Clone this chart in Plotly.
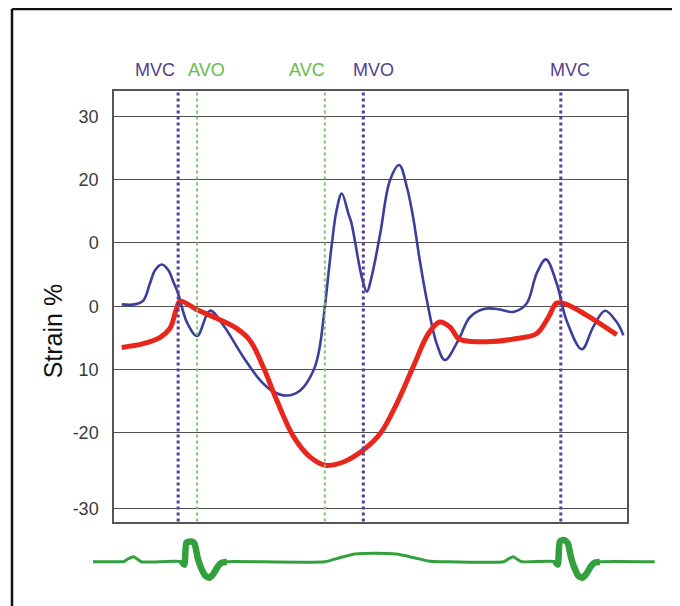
import plotly.graph_objects as go

# ---------------- data ----------------
# time axis (ms, arbitrary units across one cardiac cycle)
blue_t = [15, 40, 57, 70, 80, 93, 106, 116, 125, 142, 162, 187, 213, 252, 285, 311, 337,
          363, 389, 400, 411, 424, 434, 444, 457, 463, 483, 493, 502, 519, 538, 556, 571,
          583, 596, 610, 629, 645, 671, 694, 723, 752, 778, 804, 824, 842, 863, 882, 912,
          934, 957, 980, 993]
blue_y = [0.3, 0.3, 0.9, 3.6, 5.7, 6.6, 5.7, 3.8, 2.0, -2.5, -4.7, -0.7, -3.0, -8.0, -11.7,
          -13.5, -14.1, -13.3, -10.1, -6.9, -0.1, 9.4, 15.2, 17.8, 14.6, 13.1, 4.6, 2.3, 4.6,
          11.5, 19.9, 22.3, 18.8, 14.1, 7.3, 0.9, -5.9, -8.5, -5.4, -1.7, -0.4, -0.5, -0.9,
          0.4, 5.2, 7.4, 3.6, -2.2, -6.8, -3.3, -0.7, -2.5, -4.6]

red_t = [15, 57, 90, 109, 121, 129, 161, 200, 239, 265, 291, 317, 350, 382, 411, 447, 486,
         519, 551, 583, 613, 635, 655, 671, 681, 727, 785, 824, 847, 863, 882, 921, 980]
red_y = [-6.5, -5.9, -4.9, -3.5, -0.6, 0.8, -0.5, -1.9, -3.5, -5.4, -9.6, -14.8, -20.6,
         -23.8, -25.1, -24.6, -22.7, -20.1, -15.4, -9.6, -4.3, -2.5, -3.3, -5.1, -5.4, -5.6,
         -5.1, -4.3, -1.7, 0.5, 0.3, -1.4, -4.5]

ecg_t = [-41, 10, 18, 28, 38, 46, 53, 132, 137, 141, 146, 152, 157, 163, 168, 178, 186, 194,
         202, 210, 220, 411, 440, 470, 510, 550, 585, 616, 640, 760, 770, 778, 786, 795, 860,
         865, 869, 874, 880, 885, 891, 896, 905, 913, 921, 929, 937, 947, 1054]
ecg_mv = [0, 0, 0, 0.15, 0.25, 0.12, 0, 0, -0.15, 0.95, 1.0, 1.0, 0.9, 0.2, -0.2, -0.7, -0.8,
          -0.6, -0.25, -0.05, 0, 0, 0.2, 0.38, 0.42, 0.38, 0.2, 0.02, 0, 0, 0.15, 0.25, 0.12,
          0, 0, -0.15, 1.0, 1.08, 1.05, 0.9, 0.2, -0.2, -0.7, -0.8, -0.6, -0.25, -0.05, 0, 0]
qrs_windows = [(130, 222), (858, 949)]

events = ["MVC", "AVO", "AVC", "MVO", "MVC"]
event_t = [125, 162, 411, 486, 871]
event_kind = ["mitral", "aortic", "aortic", "mitral", "mitral"]

y_tickvals = [30, 20, 10, 0, -10, -20, -32]
y_ticktext = ["30", "20", "0", "0", "10", "-20", "-30"]

# ---------------- styling ----------------
PURPLE = "#5a3f9a"
PURPLE_TXT = "#54408c"
GREEN_LINE = "#7cc46a"
GREEN_TXT = "#66bb4c"
BLUE = "#3b3f9c"
RED = "#e8261c"
ECG = "#33a03e"
FONT = "Liberation Sans, Arial, sans-serif"

fig = go.Figure()

fig.add_trace(go.Scatter(x=blue_t, y=blue_y, mode="lines",
                         line=dict(color=BLUE, width=2.6, shape="spline", smoothing=1.0),
                         xaxis="x", yaxis="y", hoverinfo="skip"))
fig.add_trace(go.Scatter(x=red_t, y=red_y, mode="lines",
                         line=dict(color=RED, width=5, shape="spline", smoothing=1.0),
                         xaxis="x", yaxis="y", hoverinfo="skip"))

fig.add_trace(go.Scatter(x=ecg_t, y=ecg_mv, mode="lines",
                         line=dict(color=ECG, width=3, shape="spline", smoothing=0.6),
                         xaxis="x2", yaxis="y2", hoverinfo="skip"))
for lo, hi in qrs_windows:
    qt = [t for t in ecg_t if lo <= t <= hi]
    qv = [v for t, v in zip(ecg_t, ecg_mv) if lo <= t <= hi]
    fig.add_trace(go.Scatter(x=qt, y=qv, mode="lines",
                             line=dict(color=ECG, width=6.5, shape="spline", smoothing=0.6),
                             xaxis="x2", yaxis="y2", hoverinfo="skip"))

label_shift = [-23, 9, -18, 10, 9]
for name, t, kind, dx in zip(events, event_t, event_kind, label_shift):
    is_m = kind == "mitral"
    fig.add_shape(type="line", xref="x", yref="y domain", x0=t, x1=t, y0=0, y1=1,
                  line=dict(color=PURPLE if is_m else GREEN_LINE, width=3 if is_m else 2,
                            dash="dot"), layer="above")
    fig.add_annotation(x=t, xref="x", y=1.042, yref="paper", text=name, showarrow=False,
                       xanchor="center", yanchor="middle",
                       xshift=dx, font=dict(family=FONT, size=18,
                                            color=PURPLE_TXT if is_m else GREEN_TXT))

# y-axis title
fig.add_annotation(x=-0.0710, y=0.523, xref="paper", yref="paper", text="Strain %",
                   textangle=-90, showarrow=False, xanchor="center", yanchor="middle",
                   font=dict(family=FONT, size=25, color="#111111"))

# outer frame (left and top edges)
fig.add_shape(type="line", xref="paper", yref="paper", x0=-0.1436, x1=-0.1436,
              y0=1.1627, y1=-0.05, line=dict(color="#111111", width=2.5))
fig.add_shape(type="line", xref="paper", yref="paper", x0=-0.1436, x1=1.1,
              y0=1.1627, y1=1.1627, line=dict(color="#111111", width=2.5))

fig.update_layout(
    width=672, height=598,
    margin=dict(l=85, r=23, t=83, b=11),
    paper_bgcolor="white", plot_bgcolor="white",
    showlegend=False,
    xaxis=dict(domain=[0.03723, 0.94681], range=[0, 1000], showticklabels=False,
               showgrid=False, zeroline=False, showline=True, mirror=True,
               linecolor="#555555", linewidth=1.5, ticks=""),
    yaxis=dict(domain=[0.1458, 1.0], range=[-34, 34], tickvals=y_tickvals,
               ticktext=y_ticktext, showgrid=True, gridcolor="#505050", gridwidth=1.4,
               zeroline=False, showline=True, mirror=True, linecolor="#555555",
               linewidth=1.5, ticks="", ticklabelstandoff=10,
               tickfont=dict(family=FONT, size=18, color="#3a3a3a")),
    xaxis2=dict(domain=[0, 1], range=[-41, 1058.5], visible=False, anchor="y2"),
    yaxis2=dict(domain=[0, 0.13], range=[-1.665, 1.611], visible=False, anchor="x2"),
)

fig.write_html("out.html")
